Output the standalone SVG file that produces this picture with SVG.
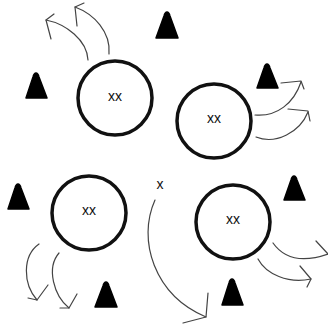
<svg xmlns="http://www.w3.org/2000/svg" width="328" height="327" viewBox="0 0 328 327">
<style>
.c{fill:#fff;stroke:#111;stroke-width:3.5}
.t{fill:#000;stroke:#000;stroke-width:1.5;stroke-linejoin:round}
.l{font-family:"Liberation Sans",Arial,sans-serif;font-size:14px;fill:#111;text-anchor:middle}
.a{fill:none;stroke:#444;stroke-width:1.2;stroke-linecap:round;stroke-linejoin:round}
</style>
<rect width="328" height="327" fill="#fff"/>
<g id="connectors" class="a">
<path d="M88 60C87 40 66 24 46 20"/><path d="M54 14L46 20L51 39"/>
<path d="M109 54C111 32 94 14 75 7"/><path d="M84 3L75 7L77 26"/>
<path d="M255 115C277 117 294 103 301 82"/><path d="M281 83L301 81L304 89"/>
<path d="M256 137C276 145 300 132 308 112"/><path d="M288 109L308 111L310 121"/>
<path d="M39 244C22 256 23 284 37 300"/><path d="M48 285L37 300L28 298"/>
<path d="M59 253C46 268 54 296 69 308"/><path d="M77 294L69 308L60 308"/>
<path d="M155 200C137 240 154 295 206 317"/><path d="M208 293L206 317L183 323"/>
<path d="M258 259C266 274 288 284 311 279"/><path d="M300 266L311 279L307 287"/>
<path d="M273 243C285 260 305 262 328 254"/><path d="M316 241L328 254"/>
</g>
<g id="node1"><circle class="c" cx="115" cy="98" r="37"/><text class="l" x="115" y="101">xx</text></g>
<g id="node2"><circle class="c" cx="214" cy="121" r="37"/><text class="l" x="214" y="123">xx</text></g>
<g id="node3"><circle class="c" cx="89" cy="213" r="37"/><text class="l" x="89" y="215">xx</text></g>
<g id="node4"><circle class="c" cx="233" cy="222" r="37"/><text class="l" x="233" y="224">xx</text></g>
<g id="node5"><text class="l" x="160" y="189">x</text></g>
<g id="tri1"><path class="t" d="M36 73Q38 73 39 77L47 98H26L33 77Q34 73 36 73Z"/></g>
<g id="tri2"><path class="t" d="M167 12Q169 12 170 16L178 38H156L164 16Q165 12 167 12Z"/></g>
<g id="tri3"><path class="t" d="M267 64Q269 64 270 68L278 88H257L264 68Q265 64 267 64Z"/></g>
<g id="tri4"><path class="t" d="M18 184Q20 184 21 188L29 209H8L15 188Q16 184 18 184Z"/></g>
<g id="tri5"><path class="t" d="M106 282Q108 282 109 286L117 307H95L103 286Q104 282 106 282Z"/></g>
<g id="tri6"><path class="t" d="M232 279Q234 279 235 283L243 305H222L229 283Q230 279 232 279Z"/></g>
<g id="tri7"><path class="t" d="M294 176Q296 176 297 180L305 200H284L291 180Q292 176 294 176Z"/></g>
</svg>
